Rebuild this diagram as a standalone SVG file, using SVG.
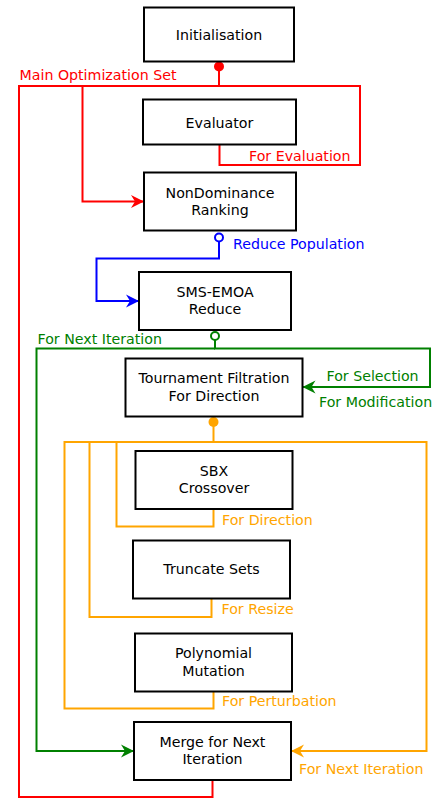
<svg xmlns="http://www.w3.org/2000/svg" width="434" height="799" viewBox="0 0 434 799">
<style>
.box{fill:#fff;stroke:#000;stroke-width:2}
.t{font-family:"DejaVu Sans",sans-serif;font-size:14.2px;fill:#000;text-anchor:middle}
.l{font-family:"DejaVu Sans",sans-serif;font-size:14.2px}
.e{fill:none;stroke-width:2}
</style>
<defs>
<marker id="ar" markerUnits="userSpaceOnUse" viewBox="-14 -7 15 14" refX="0" refY="0" markerWidth="15" markerHeight="14" orient="auto"><path d="M0,0 L-13,-6.5 L-9,0 L-13,6.5 Z" fill="#ff0000"/></marker>
<marker id="ab" markerUnits="userSpaceOnUse" viewBox="-14 -7 15 14" refX="0" refY="0" markerWidth="15" markerHeight="14" orient="auto"><path d="M0,0 L-13,-6.5 L-9,0 L-13,6.5 Z" fill="#0000ff"/></marker>
<marker id="ag" markerUnits="userSpaceOnUse" viewBox="-14 -7 15 14" refX="0" refY="0" markerWidth="15" markerHeight="14" orient="auto"><path d="M0,0 L-13,-6.5 L-9,0 L-13,6.5 Z" fill="#008000"/></marker>
<marker id="ao" markerUnits="userSpaceOnUse" viewBox="-14 -7 15 14" refX="0" refY="0" markerWidth="15" markerHeight="14" orient="auto"><path d="M0,0 L-13,-6.5 L-9,0 L-13,6.5 Z" fill="#ffa500"/></marker>
</defs>
<g id="connectors">
<g>
<path class="e" stroke="#ff0000" d="M219,66 V86 H19 V797 H212.5 V780"/>
<path class="e" stroke="#ff0000" d="M219,86 H360 V165 H219.5 V145"/>
<path class="e" stroke="#ff0000" d="M82.5,86 V201.5 H144" marker-end="url(#ar)"/>
</g>
<circle cx="219" cy="66.5" r="5" fill="#ff0000"/>
<path class="e" stroke="#0000ff" d="M219,241.5 V258.5 H96.5 V301 H139" marker-end="url(#ab)"/>
<circle cx="219" cy="237.5" r="4" fill="#fff" stroke="#0000ff" stroke-width="2"/>
<path class="e" stroke="#008000" d="M215,340 V348.5 H430 V387 H302.5" marker-end="url(#ag)"/>
<path class="e" stroke="#008000" d="M215,348.5 H36.5 V751 H134" marker-end="url(#ag)"/>
<circle cx="215" cy="336" r="4" fill="#fff" stroke="#008000" stroke-width="2"/>
<g>
<path class="e" stroke="#ffa500" d="M213.5,422 V442 H426.5 V751 H291" marker-end="url(#ao)"/>
<path class="e" stroke="#ffa500" d="M213.5,442 H64.5 V708.5 H213.5 V691.5"/>
<path class="e" stroke="#ffa500" d="M89.5,442 V617 H211.5 V598.5"/>
<path class="e" stroke="#ffa500" d="M116.5,442 V526.5 H213.5 V509"/>
</g>
<circle cx="213.5" cy="422" r="5" fill="#ffa500"/>
</g>
<g id="labels">
<text class="l" x="19.5" y="80" fill="#ff0000">Main Optimization Set</text>
<text class="l" x="249" y="161" fill="#ff0000">For Evaluation</text>
<text class="l" x="233" y="248.5" fill="#0000ff">Reduce Population</text>
<text class="l" x="37.5" y="344" fill="#008000">For Next Iteration</text>
<text class="l" x="326.5" y="380.5" fill="#008000">For Selection</text>
<text class="l" x="319" y="406.5" fill="#008000">For Modification</text>
<text class="l" x="222" y="524.5" fill="#ffa500">For Direction</text>
<text class="l" x="221.5" y="614" fill="#ffa500">For Resize</text>
<text class="l" x="222" y="706" fill="#ffa500">For Perturbation</text>
<text class="l" x="299" y="773.5" fill="#ffa500">For Next Iteration</text>
</g>
<g id="initialisation"><rect class="box" x="144" y="7.5" width="150" height="54"/><text class="t" x="219" y="39.5">Initialisation</text></g>
<g id="evaluator"><rect class="box" x="143" y="99.5" width="153" height="45"/><text class="t" x="219.5" y="127.5">Evaluator</text></g>
<g id="nondominance"><rect class="box" x="144" y="172.5" width="152" height="58"/><text class="t" x="220" y="197.5">NonDominance</text><text class="t" x="220" y="215">Ranking</text></g>
<g id="smsemoa"><rect class="box" x="139" y="272" width="152" height="58"/><text class="t" x="215" y="296.5">SMS-EMOA</text><text class="t" x="215" y="314">Reduce</text></g>
<g id="tournament"><rect class="box" x="125.5" y="358.5" width="177" height="58"/><text class="t" x="214" y="382.5">Tournament Filtration</text><text class="t" x="214" y="400.5">For Direction</text></g>
<g id="sbx"><rect class="box" x="135.5" y="451" width="157" height="58"/><text class="t" x="214" y="475.5">SBX</text><text class="t" x="214" y="493">Crossover</text></g>
<g id="truncate"><rect class="box" x="133" y="540.5" width="157" height="58"/><text class="t" x="211.5" y="574">Truncate Sets</text></g>
<g id="polynomial"><rect class="box" x="135" y="633.5" width="157" height="58"/><text class="t" x="213.5" y="658">Polynomial</text><text class="t" x="213.5" y="675.5">Mutation</text></g>
<g id="merge"><rect class="box" x="134" y="722" width="157" height="58"/><text class="t" x="212.5" y="746.5">Merge for Next</text><text class="t" x="212.5" y="764">Iteration</text></g>
</svg>
